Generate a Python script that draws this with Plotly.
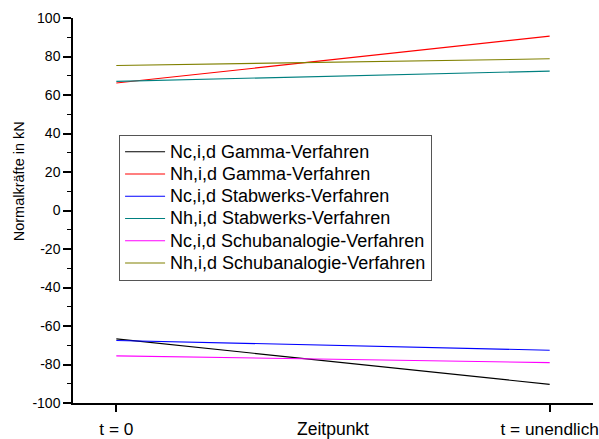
import plotly.graph_objects as go

# Time points
zeitpunkte = ["t = 0", "t = unendlich"]

# Normal forces in kN per method
nc_gamma = [-66.7, -90.3]
nh_gamma = [66.2, 90.6]
nc_stabwerk = [-67.5, -72.6]
nh_stabwerk = [67.1, 72.4]
nc_schub = [-75.5, -79.0]
nh_schub = [75.3, 78.8]

series_names = [
    "Nc,i,d Gamma-Verfahren",
    "Nh,i,d Gamma-Verfahren",
    "Nc,i,d Stabwerks-Verfahren",
    "Nh,i,d Stabwerks-Verfahren",
    "Nc,i,d Schubanalogie-Verfahren",
    "Nh,i,d Schubanalogie-Verfahren",
]
series_values = [nc_gamma, nh_gamma, nc_stabwerk, nh_stabwerk, nc_schub, nh_schub]
series_colors = ["#000000", "#ff0000", "#0000ff", "#008080", "#ff00ff", "#808000"]

y_ticks = list(range(-100, 101, 20))
y_ticktext = [str(v) for v in y_ticks]  # plain hyphen for negatives

FONT = "Arial, 'Liberation Sans', sans-serif"

fig = go.Figure()
for name, vals, col in zip(series_names, series_values, series_colors):
    fig.add_trace(go.Scatter(
        x=zeitpunkte, y=vals, mode="lines",
        # larger legend text with a tight row pitch
        name=f"<span style='font-size:18px'>{name}</span>",
        line=dict(color=col, width=1.1),
    ))

fig.update_layout(
    width=599, height=439,
    margin=dict(l=73, r=6, t=18, b=36),
    paper_bgcolor="white", plot_bgcolor="white",
    font=dict(family=FONT, color="#000000"),
    showlegend=True,
    legend=dict(
        x=0.0886, y=0.697, xanchor="left", yanchor="top",
        bordercolor="#555555", borderwidth=1, bgcolor="white",
        font=dict(size=14.8, family=FONT),
        itemwidth=40, tracegroupgap=0,
    ),
    xaxis=dict(
        type="category", range=[-0.1, 1.1], automargin=False,
        showgrid=False, zeroline=False,
        showline=True, linecolor="black", linewidth=1.5,
        ticks="outside", ticklen=7, tickwidth=1.5, tickcolor="black",
        tickfont=dict(size=17.3, family=FONT),
        ticklabelstandoff=2,
    ),
    yaxis=dict(
        range=[-100, 100], tickvals=y_ticks, ticktext=y_ticktext, automargin=False,
        showgrid=False, zeroline=False,
        showline=True, linecolor="black", linewidth=1.5,
        ticks="outside", ticklen=8, tickwidth=1.5, tickcolor="black",
        tickfont=dict(size=14, family=FONT),
        minor=dict(dtick=10, ticks="outside", ticklen=4, tickwidth=1, tickcolor="black", showgrid=False),
    ),
    annotations=[
        dict(text="Zeitpunkt", xref="paper", yref="paper", x=0.5, y=0,
             xanchor="center", yanchor="top", yshift=-14, showarrow=False,
             font=dict(size=17.5, family=FONT)),
        dict(text="Normalkräfte in kN", xref="paper", yref="paper", x=-0.1045, y=0.575,
             xanchor="center", yanchor="middle", textangle=-90, showarrow=False,
             font=dict(size=14.5, family=FONT)),
    ],
)

fig.write_html("out.html")
